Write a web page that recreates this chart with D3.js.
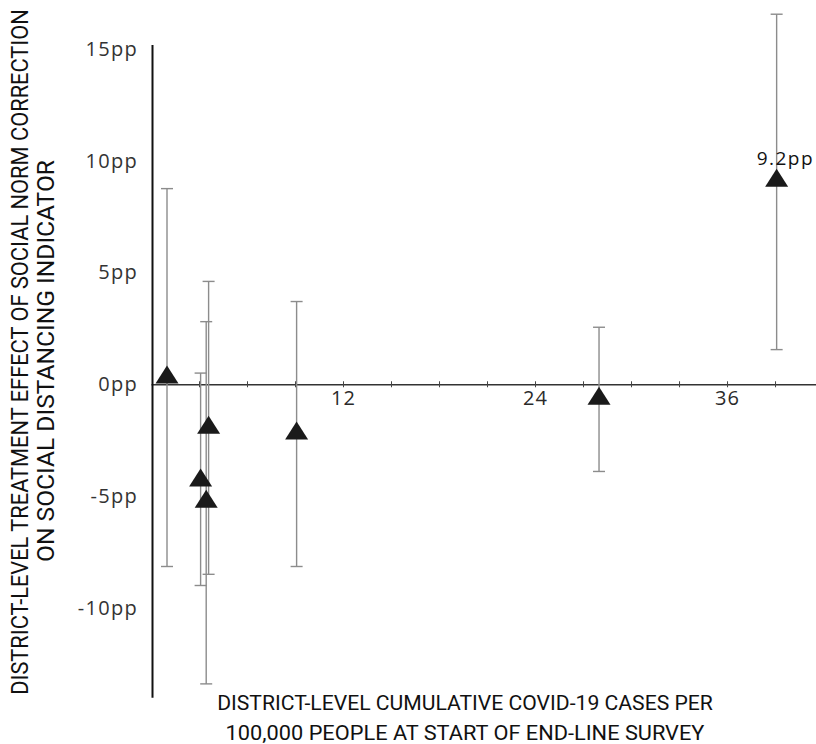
<!DOCTYPE html>
<html>
<head>
<meta charset="utf-8">
<script src="https://cdn.jsdelivr.net/npm/d3@7"></script>
<style>
  body { margin: 0; background: #fff; }
  .tick text { font-family: "Open Sans", sans-serif; }
</style>
</head>
<body>
<div class="chart"></div>
<script>
// district-level cases (per 100k) and treatment effects (pp)
const cases = [1.0, 3.1, 3.45, 3.6, 9.1, 28.0, 39.1];
const effect = [0.3, -4.3, -5.25, -1.95, -2.2, -0.65, 9.1];
const ciLow = [-8.15, -9.0, -13.4, -8.5, -8.15, -3.9, 1.55];
const ciHigh = [8.75, 0.5, 2.8, 4.6, 3.7, 2.55, 16.55];
const yTicks = [-10, -5, 0, 5, 10, 15];
const xLabelTicks = [12, 24, 36];
const highlightLabel = "9.2pp";

function drawChart() {
    const width = 816,
        height = 744;

    const svg = d3.select(".chart").append("svg")
        .attr("width", width)
        .attr("height", height)
        .style("background", "#fff");

    const x = d3.scaleLinear().domain([0, 41.56]).range([151, 816]);
    const y = d3.scaleLinear().domain([-14, 15.2]).range([697.3, 44.4]);

    const data = cases.map((c, i) => ({
        cases: c, effect: effect[i], lo: ciLow[i], hi: ciHigh[i]
    }));

    // x axis (at zero line)
    const xAxis = d3.axisBottom(x)
        .tickValues(d3.range(3, 41, 3))
        .tickSizeInner(3)
        .tickSizeOuter(0)
        .tickPadding(4)
        .tickFormat(d => xLabelTicks.includes(d) ? d : "");

    const gx = svg.append("g")
        .attr("transform", `translate(0, ${y(0)})`)
        .call(xAxis);
    gx.select(".domain").attr("stroke", "#333").attr("stroke-width", 1.6);
    gx.selectAll(".tick line").attr("y1", -3).attr("y2", 3).attr("stroke", "#444");
    gx.selectAll(".tick text")
        .attr("font-size", 20)
        .attr("fill", "#2a2a2a")
        .style("letter-spacing", "1px");

    // y axis
    const yAxis = d3.axisLeft(y)
        .tickValues(yTicks)
        .tickSize(0)
        .tickPadding(14)
        .tickFormat(d => d + "pp");

    const gy = svg.append("g")
        .attr("transform", "translate(152, 0)")
        .call(yAxis);
    gy.select(".domain").attr("stroke", "#111").attr("stroke-width", 2);
    gy.selectAll(".tick text")
        .attr("font-size", 20)
        .attr("fill", "#333")
        .style("letter-spacing", "1.3px");

    // error bars
    const bars = svg.append("g")
        .attr("stroke", "#8c8c8c")
        .attr("stroke-width", 1.4);

    bars.selectAll("line.v")
        .data(data)
        .enter()
        .append("line")
            .attr("class", "v")
            .attr("x1", d => x(d.cases))
            .attr("x2", d => x(d.cases))
            .attr("y1", d => y(d.hi))
            .attr("y2", d => y(d.lo));

    ["hi", "lo"].forEach(k => {
        bars.selectAll("line." + k)
            .data(data)
            .enter()
            .append("line")
                .attr("class", k)
                .attr("x1", d => x(d.cases) - 6)
                .attr("x2", d => x(d.cases) + 6)
                .attr("y1", d => y(d[k]))
                .attr("y2", d => y(d[k]));
    });

    // triangle markers, centroid on the estimate
    const tri = "M0,-12L11.5,6L-11.5,6Z";
    svg.selectAll("path.pt")
        .data(data)
        .enter()
        .append("path")
            .attr("class", "pt")
            .attr("d", tri)
            .attr("transform", d => `translate(${x(d.cases)}, ${y(d.effect)})`)
            .attr("fill", "#1a1a1a");

    // label on the largest effect
    const top = data[data.length - 1];
    svg.append("text")
        .attr("x", x(top.cases) - 20)
        .attr("y", y(top.effect) - 16)
        .attr("font-family", "Open Sans, sans-serif")
        .attr("font-size", 19)
        .attr("fill", "#111")
        .style("letter-spacing", "1.5px")
        .text(highlightLabel);

    // axis titles, squeezed horizontally to the widths in the original
    const xTitle = ["DISTRICT-LEVEL CUMULATIVE COVID-19 CASES PER",
                    "100,000 PEOPLE AT START OF END-LINE SURVEY"];
    const xLens = [496, 479];
    svg.selectAll("text.xt")
        .data(xTitle)
        .enter()
        .append("text")
            .attr("class", "xt")
            .attr("text-anchor", "middle")
            .attr("font-family", "Roboto, sans-serif")
            .attr("font-size", 21)
            .attr("fill", "#111")
            .text(d => d)
            .attr("transform", function(d, i) {
                const s = xLens[i] / this.getComputedTextLength();
                return `translate(465, ${710 + i * 30}) scale(${s}, 1)`;
            });

    const yTitle = ["DISTRICT-LEVEL TREATMENT EFFECT OF SOCIAL NORM CORRECTION",
                    "ON SOCIAL DISTANCING INDICATOR"];
    const yLens = [686, 402];
    const yPos = [[28, 352], [54, 361]];
    svg.selectAll("text.yt")
        .data(yTitle)
        .enter()
        .append("text")
            .attr("class", "yt")
            .attr("text-anchor", "middle")
            .attr("font-family", "Roboto, sans-serif")
            .attr("font-size", 23)
            .attr("fill", "#111")
            .text(d => d)
            .attr("transform", function(d, i) {
                const s = yLens[i] / this.getComputedTextLength();
                return `translate(${yPos[i][0]}, ${yPos[i][1]}) rotate(-90) scale(${s}, 1)`;
            });
}

drawChart();
</script>
</body>
</html>
